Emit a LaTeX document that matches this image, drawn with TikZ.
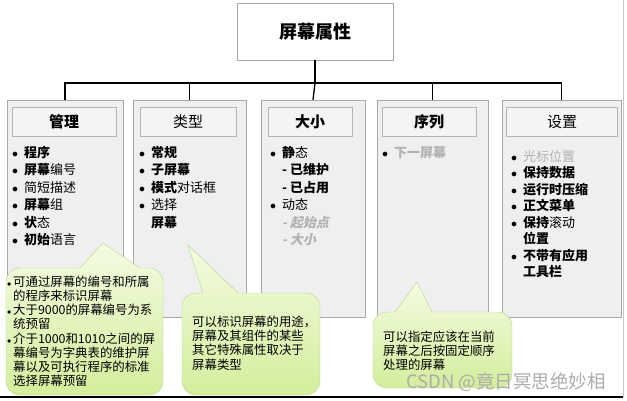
\documentclass[tikz,border=0pt]{standalone}
\usepackage{fontspec}
\setmainfont{Noto Sans CJK SC}
\newfontfamily\slantfont{Noto Sans CJK SC}[FakeSlant=0.2]
\definecolor{boxline}{HTML}{A8A8A8}
\definecolor{boxfill}{HTML}{EFEFEF}
\definecolor{headline}{HTML}{B4B4B4}
\definecolor{headfill}{HTML}{F4F4F4}
\definecolor{dimtext}{HTML}{B2B2B2}
\definecolor{notetop}{HTML}{F4FBE2}
\definecolor{notebot}{HTML}{D3EE9C}
\definecolor{noteline}{HTML}{B5D68A}
\newcommand\bul{\makebox[12pt][l]{$\bullet$}}
\newcommand\ind{\hspace*{12pt}}
\newcommand\dotitem{\makebox[6pt][l]{\fontsize{8}{8}\selectfont$\bullet$}}
\newcommand\dotind{\hspace*{6pt}}
\begin{document}
\begin{tikzpicture}[x=1pt,y=-1pt,
    titlebox/.style={draw=boxline,fill=white,minimum width=156,minimum height=57,
      font=\fontsize{18}{20}\selectfont\bfseries},
    catbox/.style={draw=boxline,fill=boxfill,minimum height=217},
    headbox/.style={draw=headline,fill=headfill,minimum height=29,
      font=\fontsize{15}{17}\selectfont},
    itemlist/.style={anchor=north west,inner sep=0pt,align=left,
      font=\fontsize{13}{17.5}\selectfont},
    notetext/.style={anchor=north west,inner sep=0pt,align=left,
      font=\fontsize{12.4}{14.1}\selectfont},
    note/.style={draw=noteline,top color=notetop,bottom color=notebot},
    link/.style={line width=1.3pt}]
  \useasboundingbox (0,0) rectangle (627,400);

  % top box and the five groups
  \node[titlebox] (screen) at (315,31.5) {屏幕属性};
  \node[catbox,minimum width=116] (mgmt) at (65,208.5) {};
  \node[catbox,minimum width=113] (kind) at (189.5,208.5) {};
  \node[catbox,minimum width=104] (size) at (313,208.5) {};
  \node[catbox,minimum width=111] (seq) at (432.5,208.5) {};
  \node[catbox,minimum width=119] (set) at (561.5,208.5) {};

  \node[headbox,minimum width=104,font=\fontsize{15}{17}\selectfont\bfseries] (mgmt-h) at (64,121.5) {管理};
  \node[headbox,minimum width=96] (kind-h) at (188,121.5) {类型};
  \node[headbox,minimum width=84,font=\fontsize{15}{17}\selectfont\bfseries] (size-h) at (310,121.5) {大小};
  \node[headbox,minimum width=94,font=\fontsize{15}{17}\selectfont\bfseries] (seq-h) at (429,121.5) {序列};
  \node[headbox,minimum width=111] (set-h) at (562,121.5) {设置};

  \coordinate (bus) at (315,83);
  \begin{scope}[link]
    \draw (screen.south) -- (bus);
    \draw (bus) -| (mgmt.north);
    \draw (bus) -| (kind.north);
    \draw (bus) -- (size.north);
    \draw (bus) -| (seq.north);
    \draw (bus) -| (set.north);
  \end{scope}

  % lists
  \node[itemlist] (mgmt-l) at (12,146) {%
    \bul\textbf{程序}\\
    \bul\textbf{屏幕}编号\\
    \bul 简短描述\\
    \bul\textbf{屏幕}组\\
    \bul\textbf{状}态\\
    \bul\textbf{初始}语言};
  \node[itemlist] (kind-l) at (139,146) {%
    \bul\textbf{常规}\\
    \bul\textbf{子屏幕}\\
    \bul\textbf{模式}对话框\\
    \bul 选择\\
    \ind\textbf{屏幕}};
  \node[itemlist] (size-l) at (270,146) {%
    \bul\textbf{静}态\\
    \ind\textbf{- 已维护}\\
    \ind\textbf{- 已占用}\\
    \bul 动态\\
    \ind{\slantfont\color{dimtext}\textbf{- 起始点}}\\
    \ind{\slantfont\color{dimtext}\textbf{- 大小}}};
  \node[itemlist] (seq-l) at (382,146) {%
    \bul{\color{dimtext}\textbf{下一屏幕}}};
  \node[itemlist,font=\fontsize{13}{16.5}\selectfont] (set-l) at (511,150) {%
    \bul{\color{dimtext}光标位置}\\
    \bul\textbf{保持数据}\\
    \bul\textbf{运行时压缩}\\
    \bul\textbf{正文菜单}\\
    \bul\textbf{保持}滚动\\
    \ind\textbf{位置}\\
    \bul\textbf{不带有应用}\\
    \ind\textbf{工具栏}};

  % callouts
  \path[note] (103,243) -- (80,268) [rounded corners=14pt] -- (6,268) -- (6,395)
    -- (163,395) -- (163,268) [sharp corners] -- (140,268) -- cycle;
  \path[note] (188,245) -- (203,293) [rounded corners=14pt] -- (182,293) -- (182,395)
    -- (320,395) -- (320,293) [sharp corners] -- (238,293) -- cycle;
  \path[note] (417,282) -- (395,312) [rounded corners=14pt] -- (373,312) -- (373,388)
    -- (512,388) -- (512,312) [sharp corners] -- (432,312) -- cycle;

  \node[notetext] (mgmt-n) at (7,276) {%
    \dotitem 可通过屏幕的编号和所属\\
    \dotind 的程序来标识屏幕\\
    \dotitem 大于9000的屏幕编号为系\\
    \dotind 统预留\\
    \dotitem 介于1000和1010之间的屏\\
    \dotind 幕编号为字典表的维护屏\\
    \dotind 幕以及可执行程序的标准\\
    \dotind 选择屏幕预留};
  \node[notetext] (kind-n) at (192,316) {%
    可以标识屏幕的用途，\\
    屏幕及其组件的某些\\
    其它特殊属性取决于\\
    屏幕类型};
  \node[notetext] (seq-n) at (383,331) {%
    可以指定应该在当前\\
    屏幕之后按固定顺序\\
    处理的屏幕};

  \node[text=gray!65,font=\fontsize{18.5}{20}\selectfont] (mark) at (506,382) {CSDN @竟日冥思绝妙相};

  % frame edges
  \draw[gray!45] (623,0) -- (623,397);
  \draw[line width=1.2pt] (0,397) -- (623,397);
\end{tikzpicture}
\end{document}
